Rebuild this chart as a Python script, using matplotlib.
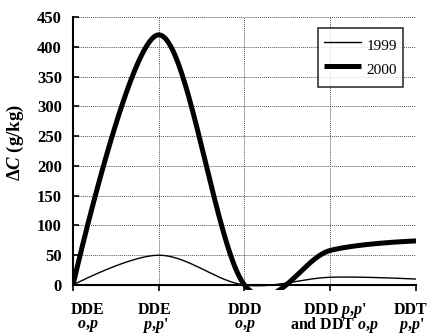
import numpy as np
import matplotlib
matplotlib.use("Agg")
import matplotlib.pyplot as plt
from matplotlib.transforms import Bbox, TransformedBbox, blended_transform_factory

plt.rcParams['font.family'] = ['Liberation Serif', 'DejaVu Serif']
plt.rcParams['mathtext.fontset'] = 'custom'
plt.rcParams['mathtext.rm'] = 'Liberation Serif:bold'
plt.rcParams['mathtext.it'] = 'Liberation Serif:italic:bold'
plt.rcParams['mathtext.bf'] = 'Liberation Serif:bold'

categories = ["DDE\n$o$,$p$", "DDE\n$p$,$p$'", "DDD\n$o$,$p$",
              "DDD $p$,$p$'\nand DDT $o$,$p$", "DDT\n$p$,$p$'"]
series_1999 = [0, 50, 0, 13, 10]
series_2000 = [0, 420, 0, 58, 74]
yticks = [0, 50, 100, 150, 200, 250, 300, 350, 400, 450]


def smooth_bezier(ax, yvals, n=80):
    """Excel-like smoothed line: cubic Bezier segments built in display space."""
    pts = ax.transData.transform(np.column_stack([np.arange(len(yvals)), yvals]).astype(float))
    N = len(pts)
    out = []
    for i in range(N - 1):
        p1, p2 = pts[i], pts[i + 1]
        p0 = pts[i - 1] if i > 0 else None
        p3 = pts[i + 2] if i + 2 < N else None
        d12 = np.hypot(*(p2 - p1))
        if p0 is None:
            c1 = p1.copy()
        else:
            d02 = np.hypot(*(p2 - p0))
            f = 1 / 6 if d02 / 6 < d12 / 2 else (d12 / 2) / d02
            c1 = p1 + (p2 - p0) * f
        if p3 is None:
            c2 = p2.copy()
        else:
            d13 = np.hypot(*(p3 - p1))
            f = 1 / 6 if d13 / 6 < d12 / 2 else (d12 / 2) / d13
            c2 = p2 - (p3 - p1) * f
        t = np.linspace(0, 1, n, endpoint=(i == N - 2))[:, None]
        seg = ((1 - t) ** 3) * p1 + 3 * ((1 - t) ** 2) * t * c1 + 3 * (1 - t) * t ** 2 * c2 + t ** 3 * p2
        out.append(seg)
    out = np.vstack(out)
    data = ax.transData.inverted().transform(out)
    return data[:, 0], data[:, 1]


fig = plt.figure(figsize=(4.28, 3.35), dpi=100)
ax = fig.add_axes([73 / 428, 1 - 285 / 335, (416 - 73) / 428, (285 - 17) / 335])
ax.set_xlim(0, 4)
ax.set_ylim(0, 450)

clipbox = TransformedBbox(Bbox([[0, -0.02], [1.0, 1.0]]), ax.transAxes)
x1, y1 = smooth_bezier(ax, series_1999)
l1, = ax.plot(x1, y1, color='black', lw=1.0, label='1999', zorder=3)
x2, y2 = smooth_bezier(ax, series_2000)
l2, = ax.plot(x2, y2, color='black', lw=3.6, label='2000', zorder=4,
              solid_capstyle='butt')
for l in (l1, l2):
    l.set_clip_box(clipbox)

ax.set_yticks(yticks)
ax.set_yticklabels([str(v) for v in yticks], fontsize=12, fontweight='bold')
ax.set_xticks(range(len(categories)))
ax.set_xticklabels([''] * len(categories))

# category labels drawn below the axis (centres offset as in the original figure)
trans = blended_transform_factory(ax.transData, ax.transAxes)
offsets = [0.175, -0.045, 0.0, 0.055, -0.06]
spacings = [0.82, 0.82, 0.82, 0.66, 0.82]
tops = [-0.064, -0.064, -0.064, -0.060, -0.064]
for i, lab in enumerate(categories):
    ax.text(i + offsets[i], tops[i], lab, transform=trans, ha='center', va='top',
            fontsize=11.5, fontweight='bold', linespacing=spacings[i],
            multialignment='center')

ax.grid(True, color='#555555', linestyle=(0, (1, 1)), linewidth=0.7)
ax.set_axisbelow(True)
for s in ('top', 'right'):
    ax.spines[s].set_visible(False)
for s in ('left', 'bottom'):
    ax.spines[s].set_linewidth(1.5)
ax.tick_params(axis='y', direction='in', length=4, width=1.2, pad=8)
ax.tick_params(axis='x', direction='out', length=4, width=1.2)

ax.set_ylabel(r'Δ$C$ (g/kg)', fontsize=13.5, fontweight='bold')
ax.yaxis.set_label_coords(-0.137, 0.53)

leg = ax.legend(handles=[l1, l2], loc='upper right', bbox_to_anchor=(0.962, 0.959),
                fontsize=11, frameon=True, fancybox=False, edgecolor='black',
                handlelength=2.4, handleheight=1.9, handletextpad=0.35, borderpad=0.4,
                labelspacing=0.08, borderaxespad=0)
leg.get_frame().set_linewidth(1.2)

fig.savefig('out.png', dpi=100)
